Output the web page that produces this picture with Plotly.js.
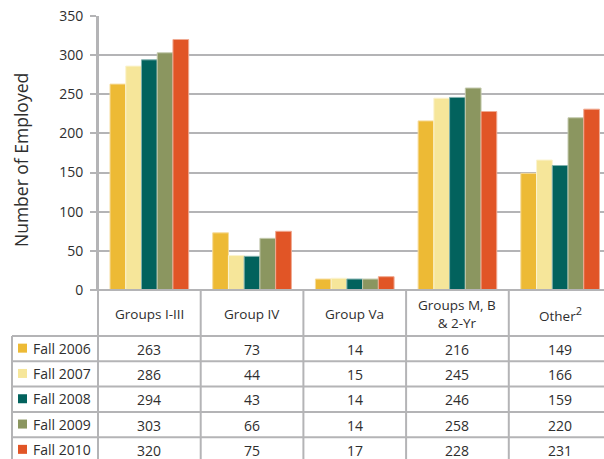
<!DOCTYPE html>
<html>
<head>
<meta charset="utf-8">
<script src="https://cdn.plot.ly/plotly-3.0.1.min.js"></script>
<style>html,body{margin:0;padding:0;background:#fff;}#chart{width:604px;height:459px;}</style>
</head>
<body>
<div id="chart"></div>
<script>
// ---- data ----
var categories = ["Groups I-III", "Group IV", "Group Va", "Groups M, B<br>& 2-Yr", "Other<sup><span style=\"font-size:11px\">2</span></sup>"];
var seriesNames = ["Fall 2006", "Fall 2007", "Fall 2008", "Fall 2009", "Fall 2010"];
var fall2006 = [263, 73, 14, 216, 149];
var fall2007 = [286, 44, 15, 245, 166];
var fall2008 = [294, 43, 14, 246, 159];
var fall2009 = [303, 66, 14, 258, 220];
var fall2010 = [320, 75, 17, 228, 231];
var yTicks = [0, 50, 100, 150, 200, 250, 300, 350];

var seriesValues = [fall2006, fall2007, fall2008, fall2009, fall2010];
var colors = ["#EDBA35", "#F6E69A", "#02625D", "#8B9660", "#E15526"];
var edge = ["#F6DB9A", "#FBF3CF", "#7FB0AD", "#C4CAAE", "#F0AA92"];

// ---- geometry (pixels) ----
var W = 604, H = 459;
var L = 98, T = 16, B = 290;          // plot area left, top, bottom
var plotW = W - L, plotH = B - T;
var colW = 102.7;                      // category width in px
var rowTop = 336, rowH = 25.3;         // table rows
var tableLeft = 12;
var gridColor = "#B4B4B6";
var textColor = "#2E2E2E";
var FONT = "Open Sans, sans-serif";

function px(x) { return (x - L) / plotW; }
function py(y) { return (B - y) / plotH; }

var traces = seriesNames.map(function (n, i) {
  return {
    type: "bar",
    name: n,
    x: categories,
    y: seriesValues[i],
    marker: { color: colors[i], line: { color: edge[i], width: 1 } },
    hoverinfo: "x+y+name"
  };
});

var shapes = [];
var annotations = [];
var lineStyle = { color: gridColor, width: 2 };

// header row vertical dividers (category boundaries)
for (var c = 0; c <= categories.length; c++) {
  shapes.push({ type: "line", xref: "x", yref: "paper",
    x0: c - 0.5, x1: c - 0.5, y0: py(B), y1: py(H + 5), line: lineStyle, layer: "above" });
}
// left column border
shapes.push({ type: "line", xref: "paper", yref: "paper",
  x0: px(tableLeft), x1: px(tableLeft), y0: py(rowTop), y1: py(H + 5), line: lineStyle });
// horizontal row lines
for (var r = 0; r < seriesNames.length; r++) {
  var yy = rowTop + r * rowH;
  shapes.push({ type: "line", xref: "paper", yref: "paper",
    x0: px(tableLeft), x1: 1.02, y0: py(yy), y1: py(yy), line: lineStyle });
}

// header labels (category names)
categories.forEach(function (cat, ci) {
  var twoLine = cat.indexOf("<br>") >= 0;
  annotations.push({ xref: "x", yref: "paper", x: ci, y: py(twoLine ? 314 : 314),
    text: cat, showarrow: false, xanchor: "center", yanchor: "middle",
    font: { family: FONT, size: twoLine ? 13.5 : 13.5, color: textColor } });
});

// table rows
seriesNames.forEach(function (n, ri) {
  var cy = rowTop + ri * rowH + rowH / 2 + 0.5;
  // legend swatch
  shapes.push({ type: "rect", xref: "paper", yref: "paper",
    x0: px(18), x1: px(27), y0: py(cy - 5.5), y1: py(cy + 3.5),
    fillcolor: colors[ri], line: { width: 0 } });
  annotations.push({ xref: "paper", yref: "paper", x: px(31), y: py(cy - 1),
    text: n, showarrow: false, xanchor: "left", yanchor: "middle",
    font: { family: FONT, size: 14, color: textColor } });
  categories.forEach(function (cat, ci) {
    annotations.push({ xref: "x", yref: "paper", x: ci, y: py(cy),
      text: String(seriesValues[ri][ci]), showarrow: false, xanchor: "center", yanchor: "middle",
      font: { family: FONT, size: 14, color: textColor } });
  });
});

// y-axis title
annotations.push({ xref: "paper", yref: "paper", x: px(21), y: py(160),
  text: "Number of Employed", textangle: -90, showarrow: false,
  xanchor: "center", yanchor: "middle",
  font: { family: FONT, size: 17.5, color: textColor } });

var layout = {
  width: W, height: H,
  margin: { l: L, r: 0, t: T, b: H - B, pad: 0 },
  paper_bgcolor: "#fff", plot_bgcolor: "#fff",
  barmode: "group", bargap: 0.234, bargroupgap: 0,
  showlegend: false,
  xaxis: {
    type: "category",
    range: [-0.5, -0.5 + plotW / colW],
    showticklabels: false, ticks: "", showgrid: false, zeroline: false,
    showline: false, fixedrange: true
  },
  yaxis: {
    range: [0, 350], tickvals: yTicks, ticktext: yTicks.map(String),
    showgrid: true, gridcolor: gridColor, gridwidth: 2,
    zeroline: false, showline: true, linecolor: gridColor, linewidth: 2,
    ticks: "outside", ticklen: 6, tickwidth: 2, tickcolor: gridColor,
    ticklabelstandoff: 4,
    tickfont: { family: FONT, size: 14, color: textColor },
    fixedrange: true
  },
  shapes: shapes,
  annotations: annotations,
  font: { family: FONT, color: textColor }
};

// extend y axis line down through the table
layout.shapes.push({ type: "line", xref: "paper", yref: "paper",
  x0: 0, x1: 0, y0: 1, y1: py(H + 5), line: lineStyle, layer: "above" });
// x axis baseline
layout.shapes.push({ type: "line", xref: "paper", yref: "paper",
  x0: px(L - 6), x1: 1.02, y0: 0, y1: 0, line: lineStyle, layer: "above" });

Plotly.newPlot("chart", traces, layout, { staticPlot: true, displayModeBar: false });
</script>
</body>
</html>
